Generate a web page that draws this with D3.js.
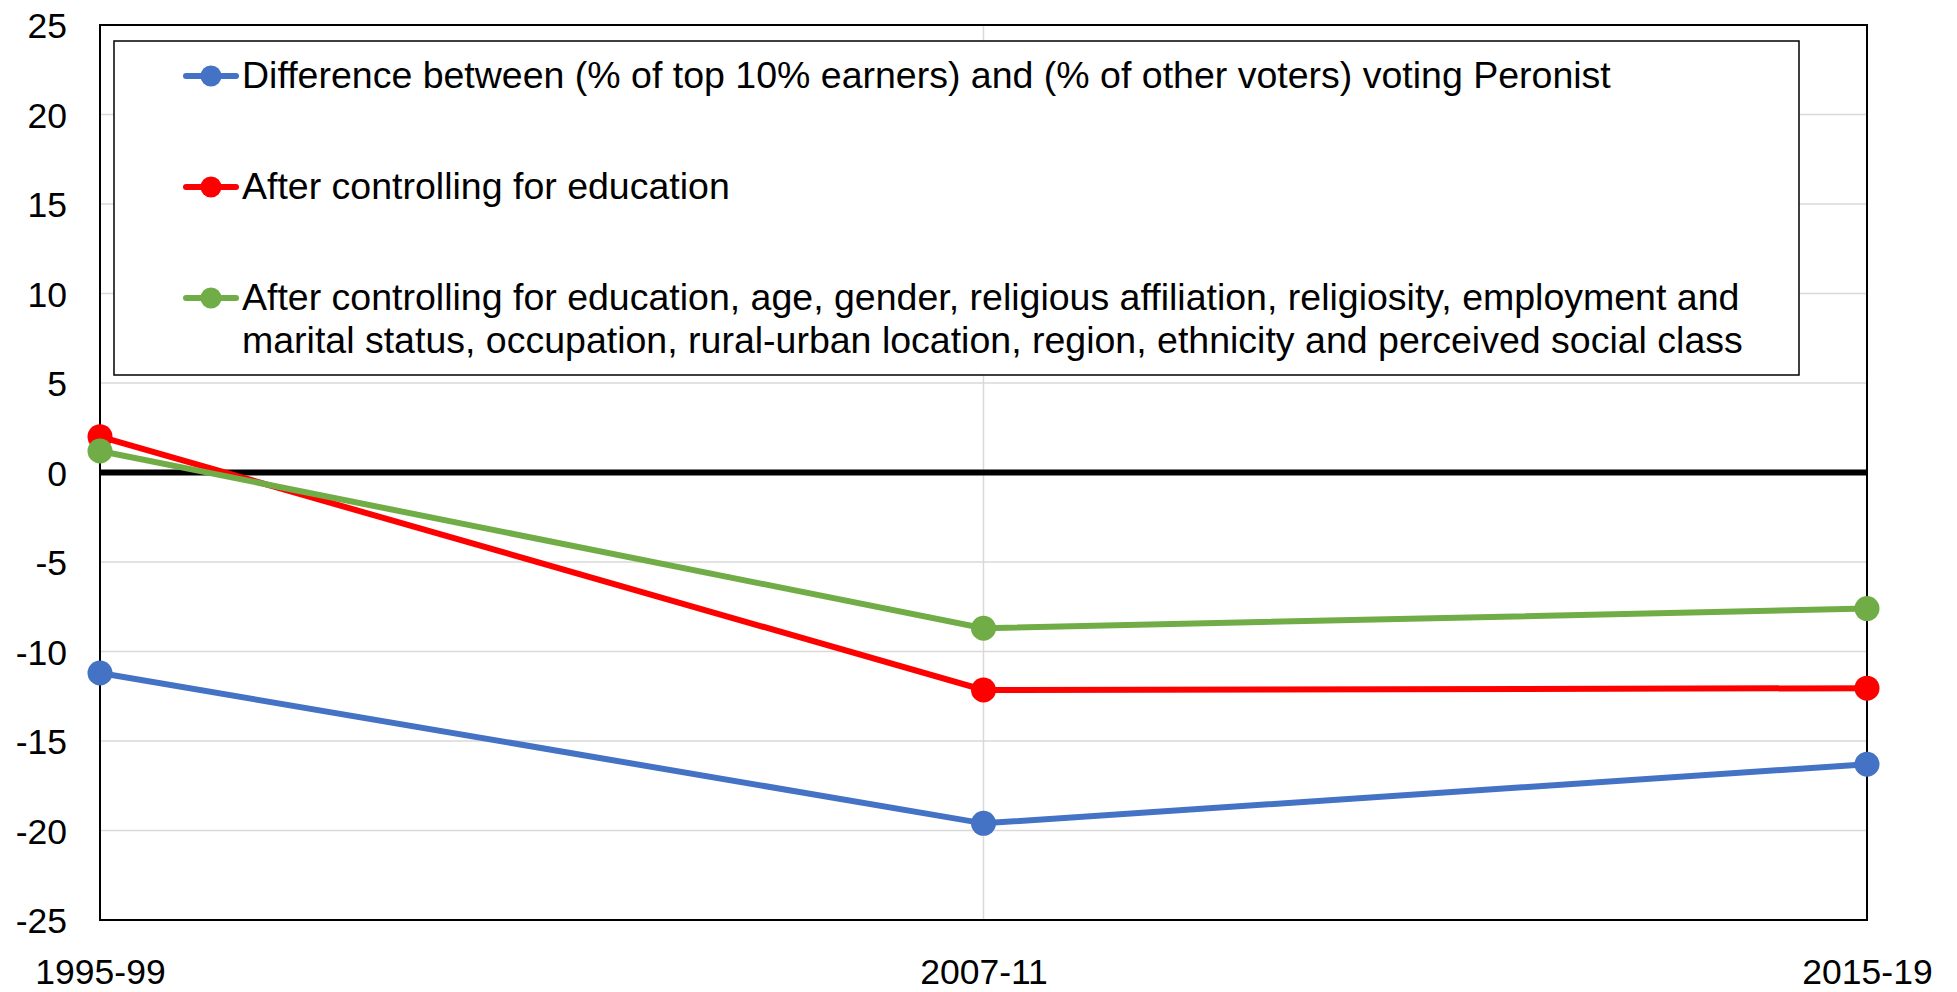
<!DOCTYPE html>
<html>
<head>
<meta charset="utf-8">
<script src="https://cdn.jsdelivr.net/npm/d3@7"></script>
<style>
  body { margin: 0; background: #fff; }
  text { font-family: "Liberation Sans", Arial, sans-serif; fill: #000; }
</style>
</head>
<body>
<div class="chart"></div>
<script>
var periods = ["1995-99", "2007-11", "2015-19"];
var topEarners = [-11.2, -19.6, -16.3];
var afterEducation = [2.0, -12.15, -12.05];
var afterAll = [1.2, -8.7, -7.6];
var yTicks = [-25, -20, -15, -10, -5, 0, 5, 10, 15, 20, 25];
var legendLabels = [
  ["Difference between (% of top 10% earners) and (% of other voters) voting Peronist"],
  ["After controlling for education"],
  ["After controlling for education, age, gender, religious affiliation, religiosity, employment and",
   "marital status, occupation, rural-urban location, region, ethnicity and perceived social class"]
];

var width = 1957,
    height = 992;
var margin = {left: 100, right: 90, top: 25, bottom: 72};

var series = [
  {values: topEarners, color: "#4472c4", label: legendLabels[0]},
  {values: afterEducation, color: "#ff0000", label: legendLabels[1]},
  {values: afterAll, color: "#70ad47", label: legendLabels[2]}
];

var svg = d3.select(".chart").append("svg")
    .attr("width", width)
    .attr("height", height);

var x = d3.scalePoint()
    .domain(periods)
    .range([margin.left, width - margin.right]);

var y = d3.scaleLinear()
    .domain([-25, 25])
    .range([height - margin.bottom, margin.top]);

// horizontal gridlines
svg.append("g")
    .selectAll("line")
    .data(yTicks)
    .enter()
    .append("line")
    .attr("x1", margin.left)
    .attr("x2", width - margin.right)
    .attr("y1", function(d){ return y(d); })
    .attr("y2", function(d){ return y(d); })
    .attr("stroke", "#d9d9d9")
    .attr("stroke-width", 1.5);

// vertical gridlines
svg.append("g")
    .selectAll("line")
    .data(periods)
    .enter()
    .append("line")
    .attr("x1", function(d){ return x(d); })
    .attr("x2", function(d){ return x(d); })
    .attr("y1", margin.top)
    .attr("y2", height - margin.bottom)
    .attr("stroke", "#d9d9d9")
    .attr("stroke-width", 1.5);

// plot border
svg.append("rect")
    .attr("x", margin.left)
    .attr("y", margin.top)
    .attr("width", width - margin.right - margin.left)
    .attr("height", height - margin.bottom - margin.top)
    .attr("fill", "none")
    .attr("stroke", "#000")
    .attr("stroke-width", 2);

// zero line
svg.append("line")
    .attr("x1", margin.left)
    .attr("x2", width - margin.right)
    .attr("y1", y(0))
    .attr("y2", y(0))
    .attr("stroke", "#000")
    .attr("stroke-width", 6);

// axes
var yAxis = svg.append("g")
    .attr("transform", "translate(" + margin.left + ",0)")
    .call(d3.axisLeft(y).tickValues(yTicks).tickSize(0).tickPadding(33)
      .tickFormat(function(d){ return String(d); }));
yAxis.select(".domain").remove();
yAxis.selectAll("text")
    .style("font-family", "'Liberation Sans', Arial, sans-serif")
    .style("font-size", "35.5px")
    .attr("fill", "#000")
    .attr("dy", "0.36em");

var xAxis = svg.append("g")
    .attr("transform", "translate(0," + (height - margin.bottom) + ")")
    .call(d3.axisBottom(x).tickSize(0).tickPadding(39));
xAxis.select(".domain").remove();
xAxis.selectAll("text")
    .style("font-family", "'Liberation Sans', Arial, sans-serif")
    .style("font-size", "35.5px")
    .attr("fill", "#000");

// series
var line = d3.line()
    .x(function(d, i){ return x(periods[i]); })
    .y(function(d){ return y(d); });

series.forEach(function(s){
  svg.append("path")
      .datum(s.values)
      .attr("d", line)
      .attr("fill", "none")
      .attr("stroke", s.color)
      .attr("stroke-width", 6);

  svg.append("g")
      .selectAll("circle")
      .data(s.values)
      .enter()
      .append("circle")
      .attr("cx", function(d, i){ return x(periods[i]); })
      .attr("cy", function(d){ return y(d); })
      .attr("r", 12.5)
      .attr("fill", s.color);
});

// legend
var legend = svg.append("g");
legend.append("rect")
    .attr("x", 114)
    .attr("y", 41)
    .attr("width", 1685)
    .attr("height", 334)
    .attr("fill", "#fff")
    .attr("stroke", "#000")
    .attr("stroke-width", 1.5);

var rowY = [76, 187, 298];

series.forEach(function(s, i){
  var g = legend.append("g")
      .attr("transform", "translate(0," + rowY[i] + ")");
  g.append("line")
      .attr("x1", 186)
      .attr("x2", 236)
      .attr("y1", 0)
      .attr("y2", 0)
      .attr("stroke", s.color)
      .attr("stroke-width", 6)
      .attr("stroke-linecap", "round");
  g.append("circle")
      .attr("cx", 211)
      .attr("cy", 0)
      .attr("r", 10.5)
      .attr("fill", s.color);
  var t = g.append("text")
      .attr("x", 242)
      .attr("y", 12)
      .style("font-size", "37.5px");
  t.selectAll("tspan")
      .data(s.label)
      .enter()
      .append("tspan")
      .attr("x", 242)
      .attr("dy", function(d, j){ return j === 0 ? 0 : 43.4; })
      .text(function(d){ return d; });
});
</script>
</body>
</html>
